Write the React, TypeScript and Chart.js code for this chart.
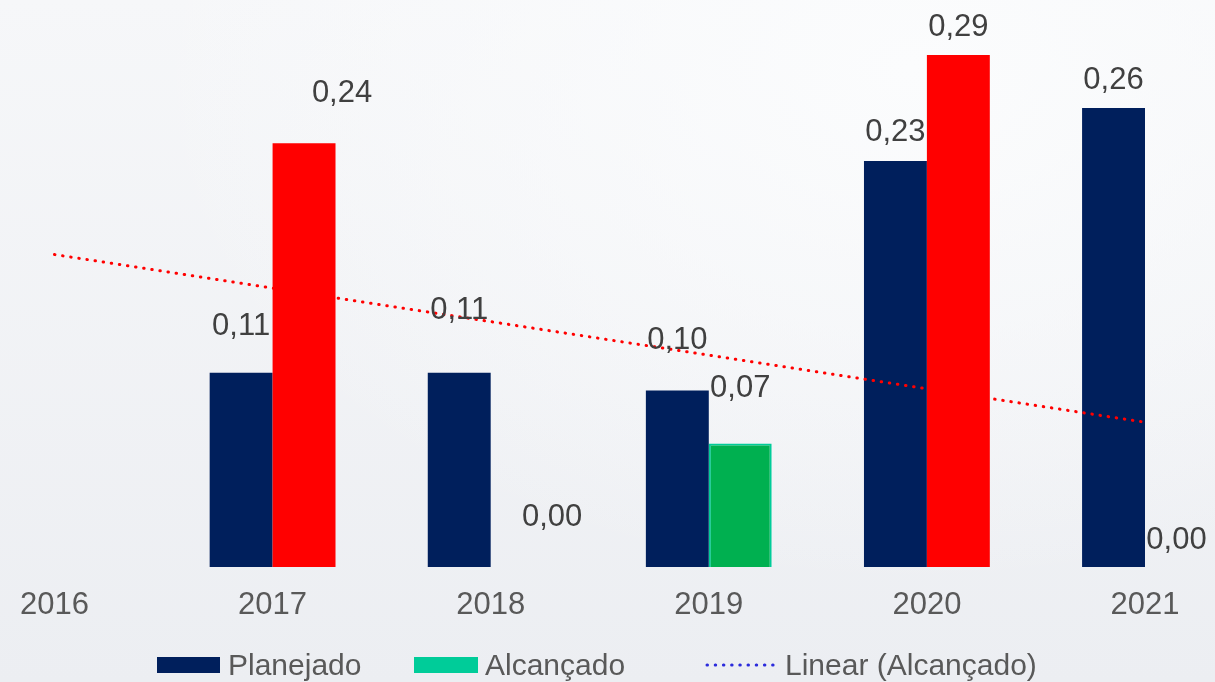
import React, { useEffect, useRef } from "react";
import { Chart, registerables } from "chart.js";

Chart.register(...registerables);

const categories = ["2016", "2017", "2018", "2019", "2020", "2021"];
const planejado = [null, 0.11, 0.11, 0.1, 0.23, 0.26];
const alcancado = [null, 0.24, 0.0, 0.07, 0.29, 0.0];
// Excel linear trendline of "Alcançado", read at its two ends (2016, 2021)
const trendAlcancado = [0.177, null, null, null, null, 0.082];

const alcancadoColors = ["#FF0000", "#FF0000", "#00B050", "#00B050", "#FF0000", "#00B050"];
const alcancadoBorders = [0, 0, 0, 2, 0, 0];

// label offsets (px) relative to the top of each bar
const planejadoLabelOffsets = [[0, 0], [0, -46], [0, -62], [0, -50], [0, -29], [0, -28]];
const alcancadoLabelOffsets = [[0, 0], [38, -50], [30, -50], [0, -55], [0, -28], [0, -27]];

const FONT = "'Liberation Sans', Arial, sans-serif";
const W = 1215;
const H = 682;
const BASE_Y = 567;
const ALC_INDEX = 2;

const fmt = (v: number) => v.toFixed(2).replace(".", ",");

// Draw "Alcançado" bars after the trendline (trendline sits between the two bar series)
const layerPlugin = {
  id: "layerOrder",
  beforeDatasetDraw(chart: any, args: any) {
    if (args.index === ALC_INDEX) return false;
    return true;
  },
  afterDatasetsDraw(chart: any) {
    const meta = chart.getDatasetMeta(ALC_INDEX);
    const area = chart.chartArea;
    const ctx = chart.ctx;
    ctx.save();
    ctx.beginPath();
    ctx.rect(area.left - 5, area.top - 5, area.right - area.left + 80, area.bottom - area.top + 10);
    ctx.clip();
    meta.controller.draw();
    ctx.restore();
  },
};

const labelsPlugin = {
  id: "valueLabels",
  afterDatasetsDraw(chart: any) {
    const ctx = chart.ctx;
    ctx.save();
    ctx.font = `31px ${FONT}`;
    ctx.fillStyle = "#404040";
    ctx.textAlign = "center";
    ctx.textBaseline = "middle";
    const sets = [
      { idx: 1, values: planejado, offs: planejadoLabelOffsets },
      { idx: 2, values: alcancado, offs: alcancadoLabelOffsets },
    ];
    sets.forEach(({ idx, values, offs }) => {
      const meta = chart.getDatasetMeta(idx);
      values.forEach((v, i) => {
        if (v === null || v === undefined) return;
        const el = meta.data[i];
        if (!el) return;
        ctx.fillText(fmt(v as number), el.x + offs[i][0], el.y + offs[i][1]);
      });
    });
    ctx.restore();
  },
};

const legendPlugin = {
  id: "customLegend",
  afterDraw(chart: any) {
    const ctx = chart.ctx;
    ctx.save();
    ctx.font = `30px ${FONT}`;
    ctx.textBaseline = "alphabetic";
    ctx.textAlign = "left";
    const baseline = 675;
    // Planejado
    ctx.fillStyle = "#001F5C";
    ctx.fillRect(157, 657, 63, 16);
    ctx.fillStyle = "#595959";
    ctx.fillText("Planejado", 228, baseline);
    // Alcançado
    ctx.fillStyle = "#00CC99";
    ctx.fillRect(414, 657, 64, 16);
    ctx.fillStyle = "#595959";
    ctx.fillText("Alcançado", 485, baseline);
    // Linear (Alcançado)
    ctx.strokeStyle = "#2B2BDC";
    ctx.lineWidth = 3;
    ctx.lineCap = "round";
    ctx.setLineDash([0.5, 7.7]);
    ctx.beginPath();
    ctx.moveTo(707, 665);
    ctx.lineTo(776, 665);
    ctx.stroke();
    ctx.setLineDash([]);
    ctx.fillText("Linear (Alcançado)", 785, baseline);
    ctx.restore();
  },
};

export default function App() {
  const ref = useRef<HTMLCanvasElement | null>(null);

  useEffect(() => {
    if (!ref.current) return;
    const chart = new Chart(ref.current, {
      type: "bar",
      data: {
        labels: categories,
        datasets: [
          {
            type: "line",
            label: "Linear (Alcançado)",
            data: trendAlcancado as any,
            spanGaps: true,
            borderColor: "#FF0000",
            borderWidth: 3,
            borderDash: [0.5, 7.7],
            borderCapStyle: "round",
            pointRadius: 0,
            fill: false,
          } as any,
          {
            label: "Planejado",
            data: planejado as any,
            backgroundColor: "#001F5C",
            borderWidth: 0,
          },
          {
            label: "Alcançado",
            data: alcancado as any,
            backgroundColor: alcancadoColors,
            borderColor: "#00CC99",
            borderWidth: alcancadoBorders,
          },
        ],
      },
      options: {
        animation: false,
        responsive: false,
        maintainAspectRatio: false,
        layout: { padding: { left: 52.5, right: 70, top: 0, bottom: 0 } },
        datasets: {
          bar: { barPercentage: 1, categoryPercentage: 0.577 },
        },
        plugins: {
          legend: { display: false },
          tooltip: { enabled: false },
        },
        scales: {
          x: {
            type: "category",
            offset: false,
            grid: { display: false, drawTicks: false },
            border: { display: false },
            ticks: {
              color: "#595959",
              font: { size: 31, family: FONT },
              padding: 20,
              maxRotation: 0,
              autoSkip: false,
            },
            afterFit: (scale: any) => {
              scale.height = H - BASE_Y;
            },
          },
          y: {
            display: false,
            min: 0,
            max: 0.3212,
          },
        },
      },
      plugins: [layerPlugin, labelsPlugin, legendPlugin],
    });
    return () => chart.destroy();
  }, []);

  return (
    <div
      style={{
        position: "fixed",
        left: 0,
        top: 0,
        width: W,
        height: H,
        background:
          "radial-gradient(ellipse at 75% 10%, #fbfcfd 0%, rgba(251,252,253,0) 60%), linear-gradient(180deg, #f6f7f9 0%, #eceef2 100%)",
      }}
    >
      <canvas ref={ref} width={W} height={H} style={{ width: W, height: H, display: "block" }} />
    </div>
  );
}
